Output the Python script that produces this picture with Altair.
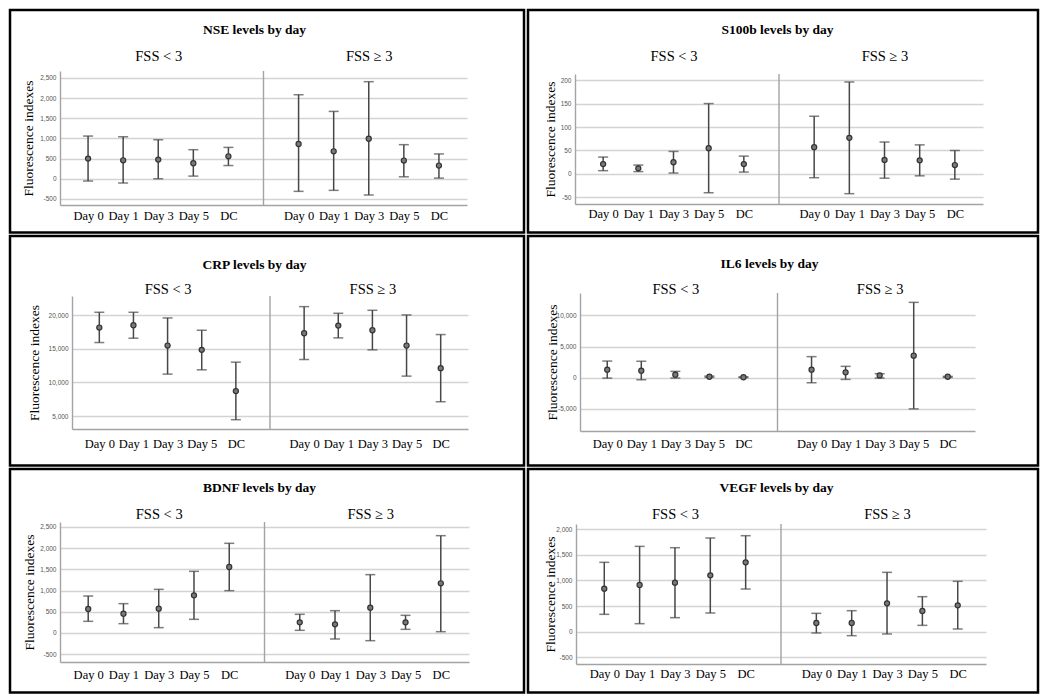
import altair as alt
import pandas as pd

days = ["Day 0", "Day 1", "Day 3", "Day 5", "DC"]
groups = ["FSS < 3", "FSS ≥ 3"]
group_keys = ["L", "R"]
markers = ["NSE", "S100b", "CRP", "IL6", "BDNF", "VEGF"]
y_title = "Fluorescence indexes"

# ---- values: mean, lower and upper end of error bar ----
nse_lt_mean = [500, 458, 475, 385, 556]
nse_lt_low = [-56, -105, 0, 66, 328]
nse_lt_high = [1058, 1041, 967, 720, 777]
nse_ge_mean = [861, 681, 992, 451, 328]
nse_ge_low = [-312, -287, -402, 49, 16]
nse_ge_high = [2082, 1669, 2405, 845, 615]

s100b_lt_mean = [21, 12, 25, 55, 21]
s100b_lt_low = [7, 5, 2, -40, 4]
s100b_lt_high = [36, 19, 48, 150, 38]
s100b_ge_mean = [57, 77, 30, 29, 19]
s100b_ge_low = [-8, -42, -9, -4, -11]
s100b_ge_high = [123, 196, 68, 62, 50]

crp_lt_mean = [18170, 18515, 15495, 14852, 8714]
crp_lt_low = [15940, 16585, 11240, 11882, 4457]
crp_lt_high = [20446, 20446, 19604, 17772, 13020]
crp_ge_mean = [17327, 18465, 17773, 15496, 12130]
crp_ge_low = [13416, 16634, 14852, 10942, 7130]
crp_ge_high = [21287, 20297, 20743, 20050, 17129]

il6_lt_mean = [1290, 1129, 484, 161, 80]
il6_lt_low = [-65, -323, -54, 60, 20]
il6_lt_high = [2677, 2645, 1020, 260, 150]
il6_ge_mean = [1290, 860, 376, 3548, 161]
il6_ge_low = [-806, -269, -54, -5000, 54]
il6_ge_high = [3387, 1828, 645, 12096, 215]

bdnf_lt_mean = [565, 455, 573, 887, 1554]
bdnf_lt_low = [275, 220, 126, 322, 997]
bdnf_lt_high = [871, 691, 1028, 1452, 2112]
bdnf_ge_mean = [251, 204, 597, 251, 1170]
bdnf_ge_low = [63, -141, -181, 86, 31]
bdnf_ge_high = [440, 526, 1374, 416, 2292]

vegf_lt_mean = [838, 909, 955, 1097, 1351]
vegf_lt_low = [338, 156, 273, 364, 831]
vegf_lt_high = [1351, 1662, 1636, 1825, 1870]
vegf_ge_mean = [169, 169, 552, 403, 513]
vegf_ge_low = [-26, -78, -45, 123, 52]
vegf_ge_high = [357, 409, 1156, 682, 981]

# y-axis extents and tick labels
nse_domain = [-650, 2670]
nse_ticks = [-500, 0, 500, 1000, 1500, 2000, 2500]
s100b_domain = [-64, 213]
s100b_ticks = [-50, 0, 50, 100, 150, 200]
crp_domain = [3070, 22870]
crp_ticks = [5000, 10000, 15000, 20000]
il6_domain = [-8550, 13600]
il6_ticks = [-5000, 0, 5000, 10000]
bdnf_domain = [-683, 2614]
bdnf_ticks = [-500, 0, 500, 1000, 1500, 2000, 2500]
vegf_domain = [-630, 2098]
vegf_ticks = [-500, 0, 500, 1000, 1500, 2000]

series = {
    "NSE": ((nse_lt_mean, nse_lt_low, nse_lt_high), (nse_ge_mean, nse_ge_low, nse_ge_high), nse_domain, nse_ticks),
    "S100b": ((s100b_lt_mean, s100b_lt_low, s100b_lt_high), (s100b_ge_mean, s100b_ge_low, s100b_ge_high), s100b_domain, s100b_ticks),
    "CRP": ((crp_lt_mean, crp_lt_low, crp_lt_high), (crp_ge_mean, crp_ge_low, crp_ge_high), crp_domain, crp_ticks),
    "IL6": ((il6_lt_mean, il6_lt_low, il6_lt_high), (il6_ge_mean, il6_ge_low, il6_ge_high), il6_domain, il6_ticks),
    "BDNF": ((bdnf_lt_mean, bdnf_lt_low, bdnf_lt_high), (bdnf_ge_mean, bdnf_ge_low, bdnf_ge_high), bdnf_domain, bdnf_ticks),
    "VEGF": ((vegf_lt_mean, vegf_lt_low, vegf_lt_high), (vegf_ge_mean, vegf_ge_low, vegf_ge_high), vegf_domain, vegf_ticks),
}

# ---- layout (pixels inside each framed box) ----
col_widths = [514, 510]
row_heights = [222.5, 229.5, 223.5]
layout = {
    "NSE":   dict(ax=50, end=457, top=61, bottom=195, tx=244, title=19, sub=46, lg=11, ytx=18),
    "S100b": dict(ax=47, end=455, top=64, bottom=194, tx=249, title=19, sub=46, lg=10, ytx=22),
    "CRP":   dict(ax=62, end=458, top=60, bottom=193, tx=244, title=28, sub=53, lg=15, ytx=24),
    "IL6":   dict(ax=52, end=447, top=57, bottom=195, tx=241, title=27, sub=53, lg=13, ytx=24),
    "BDNF":  dict(ax=50, end=459, top=53, bottom=193, tx=249, title=18, sub=45, lg=13, ytx=19),
    "VEGF":  dict(ax=48, end=458, top=55, bottom=195, tx=248, title=18, sub=45, lg=10, ytx=22),
}

SERIF = "Liberation Serif"
SANS = "Liberation Sans"
BAR = "#474747"
AXIS = "#a3a3a3"
GRID = "#d3d3d3"

x_domain = [f"L|{d}" for d in days] + ["gap"] + [f"R|{d}" for d in days]
bottom_expr = "indexof(datum.label, '|') > 0 ? slice(datum.label, indexof(datum.label, '|') + 1) : ''"
top_expr = (f"datum.label == 'L|Day 3' ? '{groups[0]}' : "
            f"datum.label == 'R|Day 3' ? '{groups[1]}' : ''")
ylabel_expr = "replace(format(datum.value, ','), '\u2212', '-')"


def make_box(name, width, height):
    lt, ge, ydom, yticks = series[name]
    lay = layout[name]
    rows = []
    for gk, (m, lo, hi) in zip(group_keys, [lt, ge]):
        for d, mv, lv, hv in zip(days, m, lo, hi):
            rows.append({"key": f"{gk}|{d}", "mean": mv, "low": lv, "high": hv})
    df = pd.DataFrame(rows)
    sep_df = pd.DataFrame({"key": ["gap"], "y0": [ydom[0]], "y1": [ydom[1]]})

    xscale = alt.Scale(type="point", domain=x_domain, range=[lay["ax"], lay["end"]], padding=0.8)
    yscale = alt.Scale(domain=ydom, range=[lay["bottom"], lay["top"]], nice=False, zero=False)

    yaxis = alt.Axis(
        values=yticks, labelExpr=ylabel_expr, grid=True, gridColor=GRID, gridWidth=1.4,
        domainColor=AXIS, domainWidth=1.4, ticks=False, tickSize=0,
        labelFont=SANS, labelFontSize=6.5, labelColor="#555555", labelPadding=4,
        offset=-lay["ax"], title=y_title, titleFont=SERIF, titleFontSize=13.5,
        titleFontWeight="normal", titleColor="black",
        titleX=lay["ytx"] - lay["ax"], titleY=(lay["top"] + lay["bottom"]) / 2,
        titleBaseline="middle", titleAngle=270,
    )
    xaxis_bottom = alt.Axis(
        orient="bottom", offset=lay["bottom"] - height, labelExpr=bottom_expr,
        labelFont=SERIF, labelFontSize=12.5, labelColor="black", labelAngle=0,
        labelPadding=lay["lg"] - 7, ticks=False, tickSize=0,
        domainColor=AXIS, domainWidth=1.4, title=None, grid=False,
    )
    top_axis_y = lay["sub"] + 7
    xaxis_top = alt.Axis(
        orient="top", offset=-top_axis_y, labelExpr=top_expr,
        labelFont=SERIF, labelFontSize=14.5, labelColor="black", labelAngle=0,
        labelPadding=0, ticks=False, tickSize=0, domain=False, grid=False,
        title=f"{name} levels by day", titleFont=SERIF, titleFontSize=13.5,
        titleFontWeight="bold", titleColor="black",
        titleX=lay["tx"], titleY=lay["title"] - top_axis_y,
        titleAlign="center", titleBaseline="middle",
    )

    base = alt.Chart(df)
    bars = base.mark_rule(color=BAR, strokeWidth=1.5).encode(
        x=alt.X("key:N", scale=xscale, axis=xaxis_bottom),
        y=alt.Y("low:Q", scale=yscale, axis=yaxis),
        y2="high:Q",
    )
    cap_lo = base.mark_tick(color=BAR, size=10, thickness=1.5).encode(
        x=alt.X("key:N", scale=xscale, axis=None),
        y=alt.Y("low:Q", scale=yscale, axis=yaxis),
    )
    cap_hi = base.mark_tick(color=BAR, size=10, thickness=1.5).encode(
        x=alt.X("key:N", scale=xscale, axis=None),
        y=alt.Y("high:Q", scale=yscale, axis=yaxis),
    )
    sep = alt.Chart(sep_df).mark_rule(color=AXIS, strokeWidth=1.4).encode(
        x=alt.X("key:N", scale=xscale, axis=None),
        y=alt.Y("y0:Q", scale=yscale, axis=yaxis),
        y2="y1:Q",
    )
    pts = base.mark_circle(size=26, fill="#7a7a7a", stroke="#333333", strokeWidth=1.2, opacity=1).encode(
        x=alt.X("key:N", scale=xscale, axis=xaxis_top),
        y=alt.Y("mean:Q", scale=yscale, axis=yaxis),
    )
    return alt.layer(sep, bars, cap_lo, cap_hi, pts).resolve_axis(x="independent").properties(
        width=width, height=height
    )


rows_charts = []
for r in range(3):
    pair = []
    for c in range(2):
        name = markers[r * 2 + c]
        pair.append(make_box(name, col_widths[c], row_heights[r]))
    rows_charts.append(alt.hconcat(*pair, spacing=0))

chart = alt.vconcat(*rows_charts, spacing=0).properties(
    padding=0, background="white"
).configure_view(stroke="black", strokeWidth=2.5)

chart.save("out.html", embed_options={"renderer": "svg", "actions": False})
